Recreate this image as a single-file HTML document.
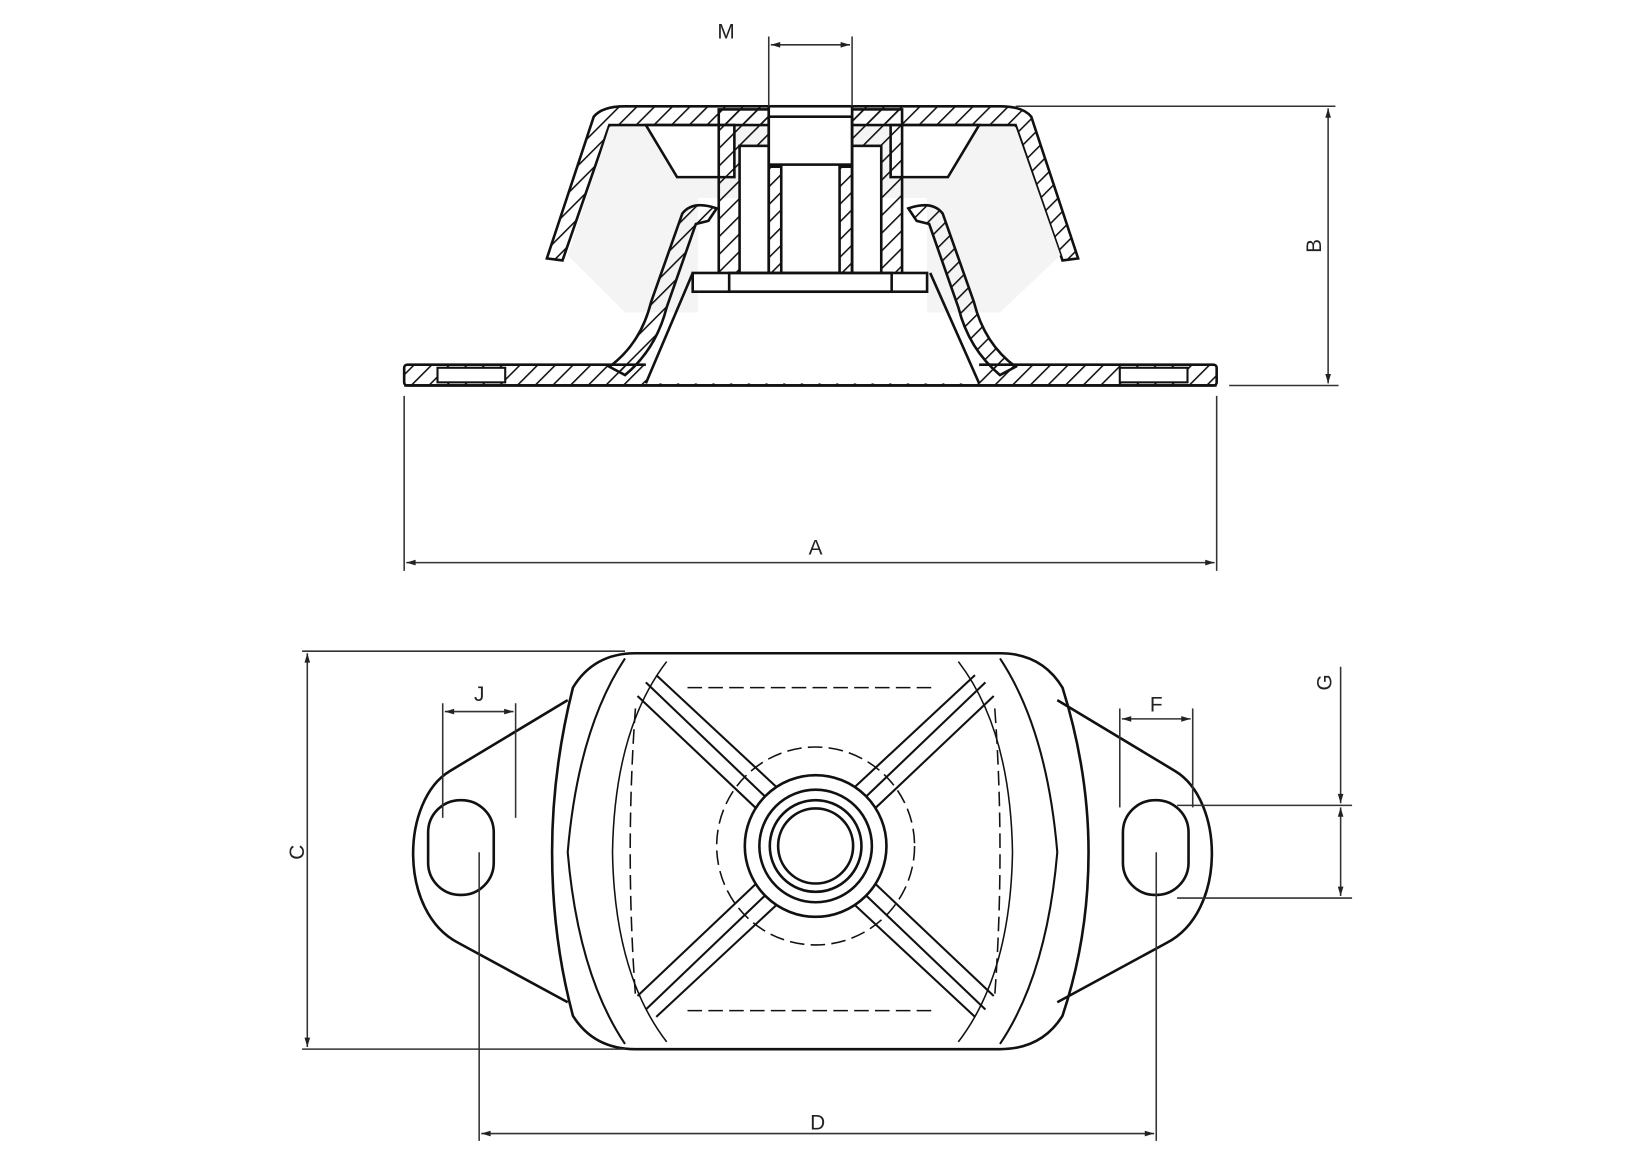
<!DOCTYPE html>
<html><head><style>html,body{margin:0;padding:0;background:#fff}svg{display:block}</style></head>
<body>
<svg width="1625" height="1170" viewBox="0 0 1560 1123" preserveAspectRatio="none" xmlns="http://www.w3.org/2000/svg" font-family="Liberation Sans, sans-serif">
<defs>
<pattern id="h" width="12" height="12" patternUnits="userSpaceOnUse" patternTransform="rotate(45)">
<line x1="0" y1="0" x2="0" y2="12" stroke="#111" stroke-width="3"/>
</pattern>
<marker id="a" viewBox="0 0 10 10" refX="10" refY="5" markerWidth="8" markerHeight="6" orient="auto-start-reverse"><path d="M0,2 L10,5 L0,8z" fill="#222"/></marker>
</defs>
<g fill="none" stroke="#111" stroke-width="2.5">
<rect x="388" y="350" width="780" height="20" rx="3" fill="url(#h)"/>
<rect x="420" y="353" width="65" height="14" fill="#fff" stroke-width="2"/>
<rect x="1075" y="353" width="65" height="14" fill="#fff" stroke-width="2"/>
<rect x="620" y="300" width="320" height="68" fill="#fff" stroke="none"/>
<line x1="388" y1="370" x2="1168" y2="370"/>
<path d="M525,248 L570,112 Q578,102 600,102 L960,102 Q982,102 990,112 L1035,248 L1020,250 L975,120 L585,120 L540,250 Z" fill="url(#h)"/>
<path d="M545,245 L585,122 L975,122 L1018,245 L960,300 L890,300 L890,190 L670,190 L670,300 L600,300 Z" fill="#f4f4f4" stroke="none"/>
<path d="M585,352 Q615,330 625,290 L655,205 Q665,192 688,200 L680,212 L668,215 L640,295 Q630,335 600,360 Z" fill="url(#h)"/>
<path d="M975,352 Q945,330 935,290 L905,205 Q895,192 872,200 L880,212 L892,215 L920,295 Q930,335 960,360 Z" fill="url(#h)"/>
<line x1="620" y1="368" x2="665" y2="262"/>
<line x1="940" y1="368" x2="893" y2="262"/>
<path d="M620,120 L705,120 L705,170 L650,170 Z" fill="#fff"/>
<path d="M940,120 L855,120 L855,170 L910,170 Z" fill="#fff"/>
<rect x="690" y="105" width="48" height="170" fill="url(#h)"/>
<rect x="818" y="105" width="48" height="170" fill="url(#h)"/>
<rect x="710" y="140" width="28" height="135" fill="#fff"/>
<rect x="818" y="140" width="28" height="135" fill="#fff"/>
<rect x="738" y="102" width="80" height="176" fill="#fff"/>
<rect x="738" y="160" width="12" height="118" fill="url(#h)"/>
<rect x="806" y="160" width="12" height="118" fill="url(#h)"/>
<rect x="738" y="112" width="80" height="46"/>
<rect x="665" y="262" width="225" height="18" fill="#fff"/>
<rect x="700" y="262" width="156" height="18"/>
</g>
<g stroke="#333" stroke-width="1.5" fill="none">
<line x1="975" y1="102" x2="1282" y2="102"/>
<line x1="1180" y1="370" x2="1285" y2="370"/>
<line x1="1275" y1="104" x2="1275" y2="368" marker-start="url(#a)" marker-end="url(#a)"/>
<line x1="738" y1="35" x2="738" y2="102"/>
<line x1="818" y1="35" x2="818" y2="102"/>
<line x1="740" y1="43" x2="816" y2="43" marker-start="url(#a)" marker-end="url(#a)"/>
<line x1="388" y1="380" x2="388" y2="548"/>
<line x1="1168" y1="380" x2="1168" y2="548"/>
<line x1="390" y1="540" x2="1166" y2="540" marker-start="url(#a)" marker-end="url(#a)"/>
</g>
<g font-size="20" fill="#222" text-anchor="middle">
<text x="697" y="37">M</text>
<text x="783" y="532">A</text>
<text transform="translate(1268,236) rotate(-90)">B</text>
<text transform="translate(292,818) rotate(-90)">C</text>
<text x="785" y="1084">D</text>
<text x="460" y="673">J</text>
<text x="1110" y="683">F</text>
<text transform="translate(1278,655) rotate(-90)">G</text>
</g>
<g fill="none" stroke="#111" stroke-width="2.5">
<path d="M545,672 L432,740 C385,768 382,875 440,905 L545,962"/>
<path d="M1015,672 L1128,740 C1175,768 1178,875 1120,905 L1015,962"/>
<rect x="411" y="768" width="63" height="91" rx="31"/>
<rect x="1078" y="768" width="63" height="91" rx="31"/>
<path d="M610,627 L960,627 Q1000,627 1020,660 Q1045,740 1045,818 Q1045,900 1020,975 Q1000,1007 960,1007 L610,1007 Q570,1007 550,975 Q530,900 530,818 Q530,740 550,660 Q570,627 610,627 Z"/>
<path d="M600,632 Q555,700 545,818 Q555,935 600,1002" stroke-width="2"/>
<path d="M960,632 Q1005,700 1015,818 Q1005,935 960,1002" stroke-width="2"/>
<path d="M640,635 Q590,700 588,818 Q590,935 640,1000" stroke-width="1.5"/>
<path d="M920,635 Q970,700 972,818 Q970,935 920,1000" stroke-width="1.5"/>
<circle cx="783" cy="812" r="68"/>
<circle cx="783" cy="812" r="54"/>
<circle cx="783" cy="812" r="44"/>
<circle cx="783" cy="812" r="36"/>
<g stroke-width="2">
<line x1="620" y1="655" x2="735" y2="765"/><line x1="612" y1="668" x2="725" y2="775"/><line x1="630" y1="648" x2="745" y2="755"/>
<line x1="946" y1="655" x2="831" y2="765"/><line x1="954" y1="668" x2="841" y2="775"/><line x1="936" y1="648" x2="821" y2="755"/>
<line x1="620" y1="969" x2="735" y2="859"/><line x1="612" y1="956" x2="725" y2="849"/><line x1="630" y1="976" x2="745" y2="869"/>
<line x1="946" y1="969" x2="831" y2="859"/><line x1="954" y1="956" x2="841" y2="849"/><line x1="936" y1="976" x2="821" y2="869"/>
</g>
<g stroke-width="1.5" stroke-dasharray="14,6">
<circle cx="783" cy="812" r="95"/>
<line x1="660" y1="660" x2="900" y2="660"/>
<line x1="660" y1="970" x2="900" y2="970"/>
<path d="M610,680 Q600,818 610,955"/>
<path d="M955,680 Q965,818 955,955"/>
</g>
</g>
<g stroke="#333" stroke-width="1.5" fill="none">
<line x1="290" y1="625" x2="600" y2="625"/>
<line x1="290" y1="1007" x2="600" y2="1007"/>
<line x1="295" y1="627" x2="295" y2="1005" marker-start="url(#a)" marker-end="url(#a)"/>
<line x1="460" y1="818" x2="460" y2="1095"/>
<line x1="1110" y1="818" x2="1110" y2="1095"/>
<line x1="462" y1="1088" x2="1108" y2="1088" marker-start="url(#a)" marker-end="url(#a)"/>
<line x1="425" y1="675" x2="425" y2="785"/>
<line x1="495" y1="675" x2="495" y2="785"/>
<line x1="427" y1="683" x2="493" y2="683" marker-start="url(#a)" marker-end="url(#a)"/>
<line x1="1075" y1="680" x2="1075" y2="775"/>
<line x1="1145" y1="680" x2="1145" y2="775"/>
<line x1="1077" y1="690" x2="1143" y2="690" marker-start="url(#a)" marker-end="url(#a)"/>
<line x1="1130" y1="773" x2="1298" y2="773"/>
<line x1="1130" y1="862" x2="1298" y2="862"/>
<line x1="1287" y1="640" x2="1287" y2="771" marker-end="url(#a)"/>
<line x1="1287" y1="775" x2="1287" y2="860" marker-start="url(#a)" marker-end="url(#a)"/>
</g>
</svg>
</body></html>
